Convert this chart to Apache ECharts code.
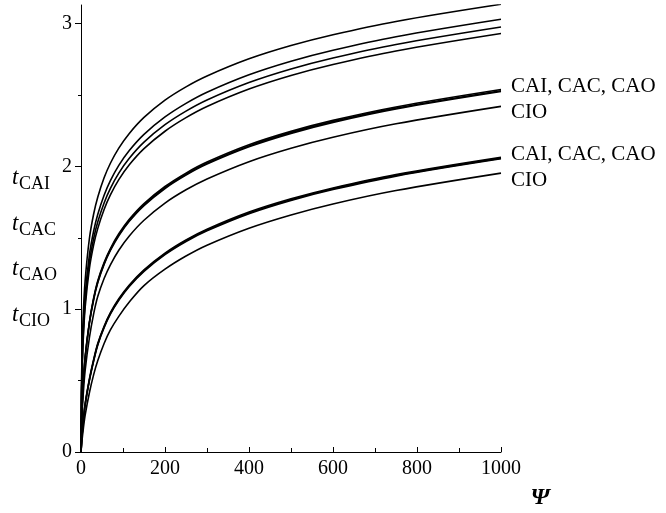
<!DOCTYPE html>
<html>
<head>
<meta charset="utf-8">
<script src="https://cdn.jsdelivr.net/npm/echarts@6/dist/echarts.min.js"></script>
<style>
  html, body { margin: 0; padding: 0; background: #fff; }
  #chart { width: 666px; height: 513px; }
</style>
</head>
<body>
<div id="chart"></div>
<script>
// Psi sample positions shared by every curve
const psi = [0, 1, 2, 5, 10, 20, 30, 40, 55, 70, 90, 115, 150, 200, 250, 300, 400, 500, 600, 750, 1000];

// Upper family: four separated curves
const upperCAI = [0, 0.41, 0.615, 0.937, 1.205, 1.495, 1.665, 1.786, 1.92, 2.022, 2.128, 2.231, 2.343, 2.464, 2.557, 2.633, 2.753, 2.846, 2.922, 3.015, 3.135];
const upperCAC = [0, 0.36, 0.54, 0.842, 1.103, 1.38, 1.546, 1.665, 1.798, 1.90, 2.007, 2.111, 2.224, 2.346, 2.441, 2.519, 2.641, 2.736, 2.813, 2.908, 3.03];
const upperCAO = [0, 0.346, 0.512, 0.80, 1.055, 1.328, 1.493, 1.612, 1.744, 1.846, 1.953, 2.057, 2.17, 2.292, 2.387, 2.465, 2.587, 2.682, 2.759, 2.854, 2.976];
const upperCIO = [0, 0.33, 0.49, 0.767, 1.015, 1.284, 1.448, 1.566, 1.698, 1.80, 1.907, 2.011, 2.124, 2.246, 2.341, 2.419, 2.541, 2.636, 2.713, 2.808, 2.93];

// Middle family: CAI, CAC, CAO nearly coincide
const middleCAI = [0, 0.18, 0.275, 0.47, 0.671, 0.912, 1.077, 1.20, 1.327, 1.425, 1.528, 1.629, 1.739, 1.859, 1.953, 2.03, 2.151, 2.245, 2.322, 2.416, 2.538];
const middleCAC = [0, 0.175, 0.27, 0.465, 0.665, 0.905, 1.07, 1.192, 1.319, 1.417, 1.52, 1.621, 1.731, 1.851, 1.945, 2.022, 2.143, 2.237, 2.314, 2.408, 2.53];
const middleCAO = [0, 0.17, 0.265, 0.46, 0.66, 0.90, 1.064, 1.186, 1.313, 1.411, 1.514, 1.615, 1.725, 1.845, 1.939, 2.016, 2.137, 2.231, 2.308, 2.402, 2.524];
const middleCIO = [0, 0.15, 0.225, 0.39, 0.575, 0.80, 0.965, 1.09, 1.215, 1.311, 1.413, 1.513, 1.623, 1.743, 1.836, 1.912, 2.033, 2.127, 2.204, 2.298, 2.42];

// Lower family
const lowerCAI = [0, 0.052, 0.098, 0.21, 0.34, 0.511, 0.646, 0.761, 0.881, 0.976, 1.073, 1.17, 1.276, 1.393, 1.485, 1.56, 1.68, 1.773, 1.849, 1.943, 2.064];
const lowerCAC = [0, 0.05, 0.095, 0.205, 0.335, 0.505, 0.64, 0.755, 0.875, 0.97, 1.067, 1.164, 1.27, 1.387, 1.479, 1.554, 1.674, 1.767, 1.843, 1.937, 2.058];
const lowerCAO = [0, 0.048, 0.092, 0.20, 0.33, 0.50, 0.635, 0.75, 0.87, 0.965, 1.062, 1.159, 1.265, 1.382, 1.474, 1.549, 1.669, 1.762, 1.838, 1.932, 2.053];
const lowerCIO = [0, 0.035, 0.068, 0.15, 0.26, 0.415, 0.54, 0.64, 0.76, 0.855, 0.95, 1.05, 1.165, 1.28, 1.372, 1.448, 1.567, 1.66, 1.737, 1.831, 1.953];

// Axis ticks
const xMajor = [0, 200, 400, 600, 800, 1000];
const xMinor = [100, 300, 500, 700, 900];
const yMajor = [0, 1, 2, 3];
const yMinor = [0.5, 1.5, 2.5];

// End-of-curve annotations and left-hand legend labels
const rightLabels = ['CAI, CAC, CAO', 'CIO', 'CAI, CAC, CAO', 'CIO'];
const leftSubscripts = ['CAI', 'CAC', 'CAO', 'CIO'];

const SERIF = '"Liberation Serif", "Times New Roman", serif';

const curves = [
  upperCAI, upperCAC, upperCAO, upperCIO,
  middleCAI, middleCAC, middleCAO, middleCIO,
  lowerCAI, lowerCAC, lowerCAO, lowerCIO
];

const series = curves.map(vals => ({
  type: 'line',
  xAxisIndex: 0,
  yAxisIndex: 0,
  data: psi.map((p, i) => [p, vals[i]]),
  showSymbol: false,
  smooth: 0.35,
  lineStyle: { color: '#000', width: 1.6 },
  silent: true
}));

const graphics = [];
// right-side labels
const rightY = [87, 113, 155, 181];
rightLabels.forEach((t, i) => {
  graphics.push({
    type: 'text', left: 511, top: rightY[i] - 11,
    style: { text: t, font: '21px ' + SERIF, fill: '#000' }
  });
});
// left labels: italic t with subscript
const leftY = [189, 235, 280, 326];
leftSubscripts.forEach((s, i) => {
  graphics.push({
    type: 'text', x: 12, y: leftY[i],
    style: { text: 't', font: 'italic 23px ' + SERIF, fill: '#000', verticalAlign: 'bottom' }
  });
  graphics.push({
    type: 'text', x: 19, y: leftY[i] + 4,
    style: { text: s, font: '18px ' + SERIF, fill: '#000', verticalAlign: 'bottom' }
  });
});
// x-axis name
graphics.push({
  type: 'text', x: 540, y: 510,
  style: { text: 'Ψ', font: 'italic bold 24px ' + SERIF, fill: '#000', align: 'center', verticalAlign: 'bottom' }
});

const chart = echarts.init(document.getElementById('chart'), null, { renderer: 'canvas' });
chart.setOption({
  animation: false,
  backgroundColor: '#fff',
  grid: { left: 81, right: 165, top: 5, bottom: 61 },
  xAxis: [
    {
      type: 'value', min: 0, max: 1000, interval: 200,
      axisLine: { lineStyle: { color: '#000', width: 1 } },
      axisTick: { inside: true, length: 5, customValues: xMajor, lineStyle: { color: '#000' } },
      axisLabel: {
        customValues: xMajor, color: '#000', fontFamily: SERIF, fontSize: 20, margin: 7,
        formatter: v => String(v)
      },
      splitLine: { show: false }
    },
    {
      type: 'value', min: 0, max: 1000, position: 'bottom',
      axisLine: { show: false },
      axisTick: { inside: true, length: 4, customValues: xMinor, lineStyle: { color: '#000' } },
      axisLabel: { show: false },
      splitLine: { show: false }
    }
  ],
  yAxis: [
    {
      type: 'value', min: 0, max: 3.13,
      axisLine: { show: true, lineStyle: { color: '#000', width: 1 } },
      axisTick: { show: true, length: 6, customValues: yMajor, lineStyle: { color: '#000' } },
      axisLabel: { customValues: yMajor, color: '#000', fontFamily: SERIF, fontSize: 20, margin: 9 },
      splitLine: { show: false }
    },
    {
      type: 'value', min: 0, max: 3.13, position: 'left',
      axisLine: { show: false },
      axisTick: { show: true, length: 3, customValues: yMinor, lineStyle: { color: '#000' } },
      axisLabel: { show: false },
      splitLine: { show: false }
    }
  ],
  series: series,
  graphic: graphics
});
</script>
</body>
</html>
